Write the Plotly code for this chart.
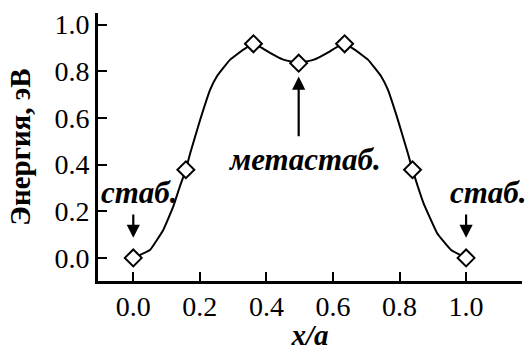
import plotly.graph_objects as go

# Energy profile along the path, in units of the lattice constant
pos_x = [0.0, 0.158, 0.361, 0.497, 0.635, 0.839, 1.0]
energy = [0.0, 0.378, 0.918, 0.835, 0.918, 0.378, 0.0]

# Smooth curve through the computed points
curve_x = [0.0, 0.05, 0.09, 0.12, 0.14, 0.158, 0.171, 0.201, 0.231, 0.251,
           0.291, 0.331, 0.361, 0.385, 0.411, 0.451, 0.497, 0.543, 0.583,
           0.609, 0.635, 0.665, 0.705, 0.745, 0.765, 0.795, 0.825, 0.839,
           0.855, 0.872, 0.913, 0.955, 1.0]
curve_y = [0.0, 0.034, 0.12, 0.22, 0.306, 0.378, 0.449, 0.592, 0.721, 0.778,
           0.850, 0.893, 0.918, 0.902, 0.879, 0.850, 0.835, 0.850, 0.879,
           0.902, 0.918, 0.893, 0.850, 0.778, 0.721, 0.592, 0.449, 0.378,
           0.306, 0.235, 0.106, 0.034, 0.0]

x_ticks = [0.0, 0.2, 0.4, 0.6, 0.8, 1.0]
y_ticks = [0.0, 0.2, 0.4, 0.6, 0.8, 1.0]

FONT = "Liberation Serif"

fig = go.Figure()
fig.add_trace(go.Scatter(
    x=curve_x, y=curve_y, mode="lines",
    line=dict(color="black", width=2, shape="spline", smoothing=0.3),
    hoverinfo="skip",
))
fig.add_trace(go.Scatter(
    x=pos_x, y=energy, mode="markers",
    marker=dict(symbol="diamond", size=13, color="white",
                line=dict(color="black", width=2)),
))

ann_font = dict(family=FONT, size=31, color="black", weight="bold", style="italic")

def label(text, x, y):
    fig.add_annotation(x=x, y=y, xref="x", yref="y", text=text,
                       showarrow=False, font=ann_font)

def arrow(x, y_tip, y_tail):
    fig.add_annotation(x=x, y=y_tip, ax=x, ay=y_tail, xref="x", yref="y",
                       axref="x", ayref="y", text="", showarrow=True,
                       arrowhead=2, arrowsize=1.2, arrowwidth=2.2,
                       arrowcolor="black")

label("стаб.", 0.02, 0.28)
arrow(pos_x[0], 0.086, 0.193)
label("стаб.", 1.067, 0.28)
arrow(pos_x[-1], 0.086, 0.193)
label("метастаб.", 0.514, 0.42)
arrow(pos_x[3], 0.778, 0.515)

axis_common = dict(
    showline=True, linecolor="black", linewidth=3,
    ticks="inside", ticklen=9, tickwidth=2, tickcolor="black",
    showgrid=False, zeroline=False, tickformat=".1f", automargin=False,
    tickfont=dict(family=FONT, size=28, color="black"),
)

fig.update_xaxes(
    range=[-0.106, 1.168], tickvals=x_ticks, ticklabelstandoff=-2, **axis_common,
    title=dict(text="x/a", font=dict(family=FONT, size=29, color="black",
                                     weight="bold", style="italic"),
               standoff=0),
)
fig.update_yaxes(
    range=[-0.099, 1.05], tickvals=y_ticks, **axis_common,
    title=dict(text="Энергия, эВ", font=dict(family=FONT, size=29, color="black",
                                            weight="bold"),
               standoff=16),
)

fig.update_layout(
    width=529, height=351,
    margin=dict(l=98, r=7, t=13, b=70),
    paper_bgcolor="white", plot_bgcolor="white",
    showlegend=False,
)

fig.write_html("out.html")
